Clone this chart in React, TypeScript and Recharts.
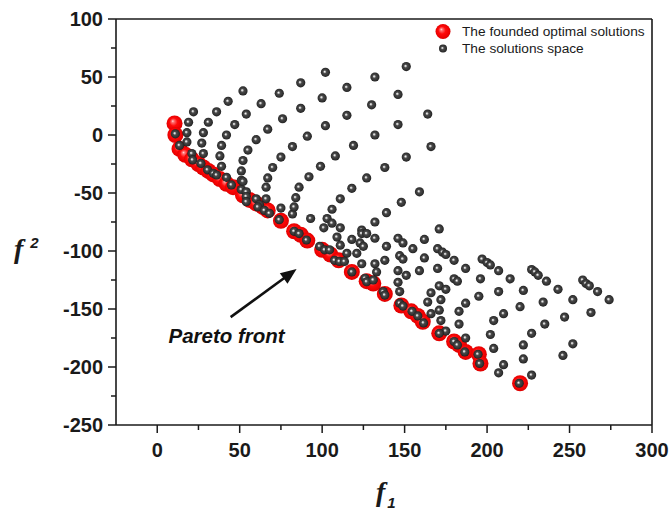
import React from 'react';
import {
  ScatterChart,
  Scatter,
  XAxis,
  YAxis,
  ReferenceLine,
  Legend,
  Label,
} from 'recharts';

// objective pairs [f1, f2] of every evaluated solution
const solutionSpace: [number, number][] = [
  [102, 54], [132, 50], [151, 59], [87, 45], [115, 41], [52, 38], [74, 36], [146, 35],
  [100, 32], [43, 29], [63, 27], [130, 26], [87, 23], [22, 20], [36, 20], [54, 18],
  [115, 17], [164, 18], [76, 14], [19, 11], [31, 11], [47, 9], [146, 9], [102, 8],
  [67, 5], [18, 2], [28, 2], [42, 0], [132, 0], [91, -1], [60, -4], [82, -10],
  [119, -9], [166, -10], [18, -6], [27, -7], [39, -9], [55, -13], [75, -19], [108, -18],
  [151, -19], [99, -27], [138, -28], [127, -37], [21, -16], [28, -16], [38, -18], [52, -22],
  [70, -28], [92, -36], [118, -46], [159, -49], [148, -58], [139, -67], [39, -27], [51, -31],
  [67, -37], [86, -45], [111, -55], [132, -75], [51, -39], [66, -45], [84, -54], [106, -64],
  [124, -82], [75, -63], [82, -68], [93, -72], [103, -72], [101, -80], [109, -88], [118, -90],
  [83, -62], [106, -76], [111, -80], [124, -85], [127, -85], [123, -93], [125, -96], [132, -89],
  [115, -102], [121, -102], [124, -111], [132, -111], [138, -108], [133, -118], [111, -95],
  [171, -81], [162, -90], [146, -89], [149, -93], [155, -98], [139, -96],
  [147, -104], [149, -107], [162, -106], [170, -98], [173, -101], [175, -103], [180, -108],
  [187, -115], [170, -115], [159, -117], [146, -117], [151, -121], [146, -127], [147, -135],
  [197, -107], [200, -110], [202, -112], [207, -117], [214, -124], [196, -124], [180, -124],
  [182, -126], [171, -130], [175, -133], [166, -136], [172, -142], [164, -144], [166, -154],
  [171, -151], [172, -160], [175, -169], [183, -152], [187, -145], [183, -163], [187, -175],
  [195, -139], [204, -160], [202, -172], [204, -184], [207, -135], [210, -154], [220, -148],
  [222, -134], [227, -116], [229, -118], [231, -121], [236, -126], [243, -133], [234, -144],
  [235, -163], [227, -171], [222, -181], [222, -193], [210, -198], [207, -205], [227, -207],
  [252, -142], [247, -157], [252, -180], [246, -190], [258, -125], [260, -128], [262, -130],
  [267, -135], [274, -142], [263, -153],
  // members of the front
  [11, 1], [13.5, -9], [21.5, -21.5], [26.5, -24.5], [30.5, -30], [34, -33], [36, -34.5],
  [42, -36.5], [45, -43], [51, -47], [54, -49], [52, -40], [54, -53], [60, -55], [66, -55],
  [62, -60], [54, -57.5], [61, -62], [65, -65], [68, -67.5], [74, -73], [83, -83], [86, -85],
  [90.5, -90.5], [98.5, -96], [101.5, -99], [104.5, -99], [107.5, -108], [110.5, -109],
  [113.5, -109], [118, -118], [126, -123.5], [127, -126.5], [131, -125], [137, -135],
  [138, -138], [147, -145], [149, -147.5], [154.5, -152], [158, -156], [161.5, -162],
  [171, -171], [180, -178], [182, -181], [186.5, -187], [194.5, -189], [195.5, -197],
  [219.5, -214],
];

// non-dominated solutions found by the optimiser
const optimalSolutions: [number, number][] = [
  [10.5, 10], [11, 0], [13.5, -12], [17, -17], [21, -21], [25, -25], [28, -28], [31, -31],
  [34, -34], [38, -38], [42, -42], [46, -45], [52, -52], [56, -56], [60, -59], [64, -62],
  [67, -65], [75, -74], [83, -83], [87, -86], [91, -91], [100, -99], [105, -103], [110, -108],
  [118, -118], [127, -126], [131, -128], [138, -137], [148, -147], [154, -152], [158, -156],
  [161, -161], [171, -171], [180, -178], [183, -181], [187, -187], [195, -189], [196, -197],
  [220, -214],
];

const xTicks = [0, 25, 50, 75, 100, 125, 150, 175, 200, 225, 250, 275, 300];
const yTicks = [-250, -225, -200, -175, -150, -125, -100, -75, -50, -25, 0, 25, 50, 75, 100];

const arrowFrom = [44.5, -157];
const arrowTo = [84.5, -115.5];

const legendItems = [
  { label: 'The founded optimal solutions', fill: 'url(#ballRed)', r: 7.5 },
  { label: 'The solutions space', fill: 'url(#ballBlack)', r: 4 },
];

const SANS = "'Liberation Sans', Arial, sans-serif";
const SERIF = "'Liberation Serif', 'Times New Roman', serif";
const INK = '#1a1a1a';

const toPoints = (rows: [number, number][]) => rows.map(([f1, f2]) => ({ f1, f2 }));

const ball = (fill: string, r: number) => (props: any) => (
  <circle cx={props.cx} cy={props.cy} r={r} fill={fill} />
);

const XTick = (props: any) => {
  const { x, y, payload } = props;
  const major = payload.value % 50 === 0;
  return (
    <g>
      <line x1={x} x2={x} y1={y} y2={y + (major ? 8 : 5)} stroke={INK} strokeWidth={1.5} />
      {major && (
        <text x={x} y={y + 32} textAnchor="middle" fontFamily={SANS} fontWeight="bold" fontSize={20} fill={INK}>
          {payload.value}
        </text>
      )}
    </g>
  );
};

const YTick = (props: any) => {
  const { x, y, payload } = props;
  const major = payload.value % 50 === 0;
  return (
    <g>
      <line x1={x - (major ? 8 : 5)} x2={x} y1={y} y2={y} stroke={INK} strokeWidth={1.5} />
      {major && (
        <text x={x - 13} y={y + 7} textAnchor="end" fontFamily={SANS} fontWeight="bold" fontSize={20} fill={INK}>
          {payload.value}
        </text>
      )}
    </g>
  );
};

// arrow pointing at the front, with its caption under the tail
const ArrowShape = (props: any) => {
  const { x1, y1, x2, y2 } = props;
  const dx = x2 - x1;
  const dy = y2 - y1;
  const len = Math.sqrt(dx * dx + dy * dy);
  const ux = dx / len;
  const uy = dy / len;
  const head = 16;
  const half = 6.5;
  const bx = x2 - ux * head;
  const by = y2 - uy * head;
  return (
    <g>
      <line x1={x1} y1={y1} x2={bx + ux * 2} y2={by + uy * 2} stroke="#111" strokeWidth={2.6} />
      <polygon
        points={`${x2},${y2} ${bx - uy * half},${by + ux * half} ${bx + uy * half},${by - ux * half}`}
        fill="#111"
      />
      <text
        x={x1 - 4}
        y={y1 + 26}
        textAnchor="middle"
        fontFamily={SANS}
        fontStyle="italic"
        fontWeight="bold"
        fontSize={20.5}
        fill="#111"
      >
        Pareto front
      </text>
    </g>
  );
};

const LegendBox = () => (
  <div style={{ fontFamily: SANS, fontSize: 13.7, color: INK }}>
    {legendItems.map((item) => (
      <div key={item.label} style={{ display: 'flex', alignItems: 'center', height: 17 }}>
        <svg width={18} height={17}>
          <circle cx={9} cy={8.5} r={item.r} fill={item.fill} />
        </svg>
        <span style={{ marginLeft: 10, whiteSpace: 'nowrap' }}>{item.label}</span>
      </div>
    ))}
  </div>
);

const XTitle = (props: any) => {
  const { x, y, width } = props.viewBox;
  return (
    <text x={x + width / 2 - 8} y={y + 76} fontFamily={SERIF} fontStyle="italic" fontWeight="bold" fontSize={28} fill={INK}>
      f
      <tspan fontFamily={SANS} fontSize={15} dx={2} dy={7}>1</tspan>
    </text>
  );
};

const YTitle = () => (
  <text x={14} y={258} fontFamily={SERIF} fontStyle="italic" fontWeight="bold" fontSize={28} fill={INK}>
    f
    <tspan fontFamily={SANS} fontSize={15} dx={7} dy={-10}>2</tspan>
  </text>
);

export default function App() {
  const spaceData = toPoints(solutionSpace);
  const optimalData = toPoints(optimalSolutions);

  return (
    <div style={{ position: 'absolute', left: 0, top: 0, width: 670, height: 512, background: '#fff' }}>
      <svg width={0} height={0} style={{ position: 'absolute' }}>
        <defs>
          <radialGradient id="ballBlack" cx="50%" cy="50%" r="55%" fx="40%" fy="42%">
            <stop offset="0%" stopColor="#ffffff" />
            <stop offset="14%" stopColor="#c8c8c8" />
            <stop offset="34%" stopColor="#4a4a4a" />
            <stop offset="75%" stopColor="#303030" />
            <stop offset="100%" stopColor="#141414" />
          </radialGradient>
          <radialGradient id="ballRed" cx="50%" cy="50%" r="55%" fx="38%" fy="35%">
            <stop offset="0%" stopColor="#ffe0e0" />
            <stop offset="15%" stopColor="#ff7070" />
            <stop offset="45%" stopColor="#ff0a0a" />
            <stop offset="85%" stopColor="#e80000" />
            <stop offset="100%" stopColor="#c00000" />
          </radialGradient>
        </defs>
      </svg>
      <ScatterChart width={670} height={512} margin={{ top: 19, right: 18, bottom: 0, left: 0 }}>
        <XAxis
          dataKey="f1"
          type="number"
          domain={[-25, 300]}
          ticks={xTicks}
          interval={0}
          tickSize={0}
          tickMargin={0}
          tickLine={false}
          tick={<XTick />}
          axisLine={{ stroke: INK, strokeWidth: 1.6 }}
          height={87}
          allowDataOverflow
        >
          <Label content={<XTitle />} />
        </XAxis>
        <YAxis
          dataKey="f2"
          type="number"
          domain={[-250, 100]}
          ticks={yTicks}
          interval={0}
          tickSize={0}
          tickMargin={0}
          tickLine={false}
          tick={<YTick />}
          axisLine={{ stroke: INK, strokeWidth: 1.6 }}
          width={116}
          allowDataOverflow
        >
          <Label content={<YTitle />} />
        </YAxis>
        <ReferenceLine y={100} stroke={INK} strokeWidth={1.6} />
        <ReferenceLine x={300} stroke={INK} strokeWidth={1.6} />
        <ReferenceLine
          segment={[
            { x: arrowFrom[0], y: arrowFrom[1] },
            { x: arrowTo[0], y: arrowTo[1] },
          ]}
          shape={ArrowShape}
        />
        <Legend
          layout="vertical"
          align="center"
          verticalAlign="middle"
          content={<LegendBox />}
          wrapperStyle={{ left: 434, top: 23, width: 230 }}
        />
        <Scatter
          name="The founded optimal solutions"
          data={optimalData}
          shape={ball('url(#ballRed)', 8)}
          isAnimationActive={false}
        />
        <Scatter
          name="The solutions space"
          data={spaceData}
          shape={ball('url(#ballBlack)', 4.6)}
          isAnimationActive={false}
        />
      </ScatterChart>
    </div>
  );
}
